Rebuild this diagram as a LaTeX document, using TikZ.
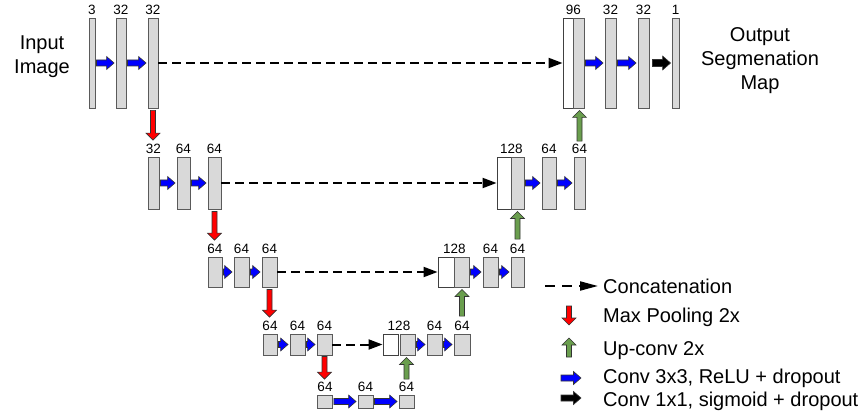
\documentclass[tikz,border=0pt]{standalone}
\usepackage{fontspec}
\setmainfont{Liberation Sans}
\usetikzlibrary{arrows.meta,calc}

\definecolor{barfill}{HTML}{D9D9D9}
\definecolor{barline}{HTML}{5A5A5A}
\definecolor{upgreen}{RGB}{106,158,78}
\definecolor{convblue}{RGB}{0,0,255}
\definecolor{poolred}{RGB}{255,0,0}

\tikzset{
  bar/.style={draw=barline, fill=barfill, line width=0.9pt, inner sep=0pt},
  wbar/.style={bar, fill=white, draw=black!75},
  lv1/.style={minimum height=90pt},
  lv2/.style={minimum height=52pt},
  lv3/.style={minimum height=30pt},
  lv4/.style={minimum height=21pt},
  lv5/.style={minimum height=13pt},
  lbl/.style={font=\fontsize{13.5}{15}\selectfont, inner sep=0pt, anchor=south, yshift=2.5pt},
  big/.style={font=\fontsize{20}{24}\selectfont, align=center, inner sep=0pt},
  key/.style={font=\fontsize{20}{24}\selectfont, inner sep=0pt, anchor=base west},
  concat/.style={draw=black, line width=2pt, dash pattern=on 9pt off 5pt,
    -{Triangle[length=14pt,width=10pt]}},
  keyconcat/.style={draw=black, line width=2pt, dash pattern=on 10pt off 7pt,
    -{Triangle[length=18pt,width=9pt]}},
  blockedge/.style={draw=black!80, line width=0.6pt, line join=miter},
}

% block arrows drawn as outlined polygons; the tip sits on the second point
\newcommand\blockright[3]{%
  \filldraw[blockedge, fill=#3] let \p1=(#1), \p2=(#2) in
    (\x1,\y1+3pt) -- (\x2-7.5pt,\y1+3pt) -- (\x2-7.5pt,\y1+6.5pt) -- (\x2,\y1)
    -- (\x2-7.5pt,\y1-6.5pt) -- (\x2-7.5pt,\y1-3pt) -- (\x1,\y1-3pt) -- cycle;}
\newcommand\blockrightbig[3]{%
  \filldraw[blockedge, fill=#3] let \p1=(#1), \p2=(#2) in
    (\x1,\y1+3.5pt) -- (\x2-8pt,\y1+3.5pt) -- (\x2-8pt,\y1+7pt) -- (\x2,\y1)
    -- (\x2-8pt,\y1-7pt) -- (\x2-8pt,\y1-3.5pt) -- (\x1,\y1-3.5pt) -- cycle;}
\newcommand\blockdown[3]{%
  \filldraw[blockedge, fill=#3] let \p1=(#1), \p2=(#2) in
    (\x1-2.5pt,\y1) -- (\x1-2.5pt,\y2+7pt) -- (\x1-7pt,\y2+7pt) -- (\x1,\y2)
    -- (\x1+7pt,\y2+7pt) -- (\x1+2.5pt,\y2+7pt) -- (\x1+2.5pt,\y1) -- cycle;}
\newcommand\blockup[3]{%
  \filldraw[blockedge, fill=#3] let \p1=(#1), \p2=(#2) in
    (\x1-2.5pt,\y1) -- (\x1-2.5pt,\y2-7pt) -- (\x1-7pt,\y2-7pt) -- (\x1,\y2)
    -- (\x1+7pt,\y2-7pt) -- (\x1+2.5pt,\y2-7pt) -- (\x1+2.5pt,\y1) -- cycle;}
\newcommand\conv[2]{\blockright{[xshift=1pt]#1.east}{[xshift=-1.5pt]#2.west}{convblue}}

\begin{document}
\begin{tikzpicture}[x=1pt, y=-1pt]
\useasboundingbox (0,0) rectangle (868,417);

% ---------- level 1 ----------
\node[bar, lv1, minimum width=6pt]  (e11) at (92,63) {};
\node[bar, lv1, minimum width=10pt] (e12) at (121,63) {};
\node[bar, lv1, minimum width=10pt] (e13) at (153,63) {};
\node[wbar, lv1, minimum width=10pt] (d1w) at (568,63) {};
\node[bar, lv1, minimum width=11pt] (d1g) at (578.5,63) {};
\node[bar, lv1, minimum width=11pt] (d12) at (610.5,63) {};
\node[bar, lv1, minimum width=11pt] (d13) at (643.5,63) {};
\node[bar, lv1, minimum width=7pt]  (d14) at (675.5,63) {};

\node[lbl] (te11) at (e11.north) {3};
\node[lbl] (te12) at (e12.north) {32};
\node[lbl] (te13) at (e13.north) {32};
\node[lbl] (td1)  at (d1w.north east) {96};
\node[lbl] (td12) at (d12.north) {32};
\node[lbl] (td13) at (d13.north) {32};
\node[lbl] (td14) at (d14.north) {1};

% ---------- level 2 ----------
\node[bar, lv2, minimum width=11pt] (e21) at (153.5,183) {};
\node[bar, lv2, minimum width=13pt] (e22) at (183.5,183) {};
\node[bar, lv2, minimum width=13pt] (e23) at (214.5,183) {};
\node[wbar, lv2, minimum width=14pt] (d2w) at (504,183) {};
\node[bar, lv2, minimum width=13pt] (d2g) at (517.5,183) {};
\node[bar, lv2, minimum width=14pt] (d22) at (549,183) {};
\node[bar, lv2, minimum width=11pt] (d23) at (579.5,183) {};

\node[lbl] (te21) at (e21.north) {32};
\node[lbl] (te22) at (e22.north) {64};
\node[lbl] (te23) at (e23.north) {64};
\node[lbl] (td2)  at (d2w.north east) {128};
\node[lbl] (td22) at (d22.north) {64};
\node[lbl] (td23) at (d23.north) {64};

% ---------- level 3 ----------
\node[bar, lv3, minimum width=14pt] (e31) at (215,272) {};
\node[bar, lv3, minimum width=15pt] (e32) at (241.5,272) {};
\node[bar, lv3, minimum width=15pt] (e33) at (269.5,272) {};
\node[wbar, lv3, minimum width=16pt] (d3w) at (446,272) {};
\node[bar, lv3, minimum width=15pt] (d3g) at (461.5,272) {};
\node[bar, lv3, minimum width=15pt] (d32) at (490.5,272) {};
\node[bar, lv3, minimum width=13pt] (d33) at (517.5,272) {};

\node[lbl] (te31) at (e31.north) {64};
\node[lbl] (te32) at (e32.north) {64};
\node[lbl] (te33) at (e33.north) {64};
\node[lbl] (td3)  at (d3w.north east) {128};
\node[lbl] (td32) at (d32.north) {64};
\node[lbl] (td33) at (d33.north) {64};

% ---------- level 4 ----------
\node[bar, lv4, minimum width=14pt] (e41) at (270,344.5) {};
\node[bar, lv4, minimum width=15pt] (e42) at (297.5,344.5) {};
\node[bar, lv4, minimum width=15pt] (e43) at (324.5,344.5) {};
\node[wbar, lv4, minimum width=15pt] (d4w) at (390.5,344.5) {};
\node[bar, lv4, minimum width=15pt] (d4g) at (407.5,344.5) {};
\node[bar, lv4, minimum width=15pt] (d42) at (434.5,344.5) {};
\node[bar, lv4, minimum width=16pt] (d43) at (462,344.5) {};

\node[lbl] (te41) at (e41.north) {64};
\node[lbl] (te42) at (e42.north) {64};
\node[lbl] (te43) at (e43.north) {64};
\node[lbl] (td4)  at ($(d4w.north east)!0.5!(d4g.north west)$) {128};
\node[lbl] (td42) at (d42.north) {64};
\node[lbl] (td43) at (d43.north) {64};

% ---------- bottleneck ----------
\node[bar, lv5, minimum width=15pt] (b1) at (325,401.5) {};
\node[bar, lv5, minimum width=15pt] (b2) at (365.5,401.5) {};
\node[bar, lv5, minimum width=15pt] (b3) at (406.5,401.5) {};

\node[lbl] (tb1) at (b1.north) {64};
\node[lbl] (tb2) at (b2.north) {64};
\node[lbl] (tb3) at (b3.north) {64};

% ---------- skip connections ----------
\draw[concat] (e13.east) -- (d1w.west);
\draw[concat] (e23.east) -- (d2w.west);
\draw[concat] (e33.east) -- (d3w.west);
\draw[concat] (e43.east) -- (d4w.west);

% ---------- convolutions ----------
\conv{e11}{e12} \conv{e12}{e13} \conv{d1g}{d12} \conv{d12}{d13}
\blockrightbig{[xshift=3pt]d13.east}{[xshift=-1pt]d14.west}{black}
\conv{e21}{e22} \conv{e22}{e23} \conv{d2g}{d22} \conv{d22}{d23}
\conv{e31}{e32} \conv{e32}{e33} \conv{d3g}{d32} \conv{d32}{d33}
\conv{e41}{e42} \conv{e42}{e43} \conv{d4g}{d42} \conv{d42}{d43}
\conv{b1}{b2} \conv{b2}{b3}

% ---------- pooling ----------
\blockdown{[yshift=-2pt]e13.south}{[yshift=4pt]te21.north}{poolred}
\blockdown{[yshift=-2pt]e23.south}{[yshift=4pt]te31.north}{poolred}
\blockdown{[yshift=-2pt]e33.south}{[yshift=4pt]te41.north}{poolred}
\blockdown{[yshift=-1pt]e43.south}{[yshift=3pt]tb1.north}{poolred}

% ---------- up-convolutions ----------
\blockup{[yshift=3pt]td23.north}{[yshift=-2pt]d1g.south}{upgreen}
\blockup{[yshift=5pt]td33.north}{[yshift=-2pt]d2g.south}{upgreen}
\blockup{[yshift=5pt]td43.north}{[yshift=-2pt]d3g.south}{upgreen}
\blockup{[yshift=3pt]tb3.north}{[yshift=-2pt]d4g.south}{upgreen}

% ---------- titles ----------
\node[big] (inp) at (42,57) {Input\\Image};
\node[big] (outp) at (760,61) {Output\\Segmenation\\Map};

% ---------- legend ----------
\coordinate (kc0) at (545,286);
\coordinate (kc1) at (598,286);
\draw[keyconcat] (kc0) -- (kc1);
\node[key] (k1) at (603,293) {Concatenation};

\coordinate (kr0) at (569,306);
\coordinate (kr1) at (569,325);
\blockdown{kr0}{kr1}{poolred}
\node[key] (k2) at (603,322.5) {Max Pooling 2x};

\coordinate (kg0) at (569,357);
\coordinate (kg1) at (569,338);
\blockup{kg0}{kg1}{upgreen}
\node[key] (k3) at (603,355) {Up-conv 2x};

\coordinate (kb0) at (561,378);
\coordinate (kb1) at (581,378);
\blockright{kb0}{kb1}{convblue}
\node[key] (k4) at (603,383) {Conv 3x3, ReLU + dropout};

\coordinate (kk0) at (561,398);
\coordinate (kk1) at (581,398);
\blockright{kk0}{kk1}{black}
\node[key] (k5) at (603,406) {Conv 1x1, sigmoid + dropout};
\end{tikzpicture}
\end{document}
